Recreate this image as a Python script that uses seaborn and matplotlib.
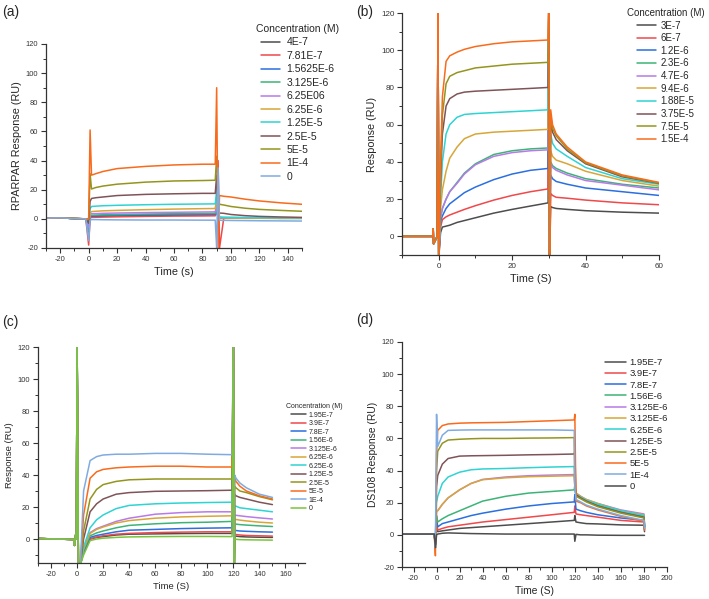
import numpy as np
import pandas as pd
import seaborn as sns
import matplotlib.pyplot as plt
from matplotlib.ticker import MultipleLocator

# ---- panel (a) ----
a_time = [-30, -20, -10, -2, 0, 1, 2, 5, 10, 20, 40, 60, 80, 89, 90, 91, 92, 95, 100, 110, 120, 135, 150]
a_labels = ['4E-7', '7.81E-7', '1.5625E-6', '3.125E-6', '6.25E06', '6.25E-6',
            '1.25E-5', '2.5E-5', '5E-5', '1E-4', '0']
a_values = [
    [0.5, 0.7, 0.2, 0, -5, 1, 1.5, 1.6, 1.8, 2, 2.3, 2.5, 2.6, 2.7, 5, 1, 0.8, 0.7, 0.7, 0.6, 0.6, 0.5, 0.5],
    [0.5, 0.7, 0.2, 0, -18, 0.5, 1, 1.1, 1.2, 1.4, 1.7, 1.9, 2, 2.1, 5, 40, -20, 0.5, 0.5, 0.4, 0.4, 0.3, 0.3],
    [0.5, 0.7, 0.2, 0, -10, 1.5, 2, 2.1, 2.3, 2.5, 2.8, 3, 3.2, 3.3, 6, 1, 0.8, 0.7, 0.7, 0.6, 0.6, 0.5, 0.5],
    [0.5, 0.7, 0.2, 0, -8, 2, 2.5, 2.6, 2.8, 3, 3.3, 3.5, 3.7, 3.8, 8, 1, 1, 0.9, 0.9, 0.8, 0.8, 0.7, 0.7],
    [0.5, 0.7, 0.2, 0, -6, 3, 3.5, 3.6, 3.8, 4, 4.3, 4.5, 4.7, 4.8, 10, 1, 0.8, 0.7, 0.6, 0.5, 0.5, 0.4, 0.4],
    [0.5, 0.7, 0.2, 0, -3, 4, 5, 5.2, 5.5, 5.8, 6.3, 6.7, 7, 7.1, 15, 1, 0.8, 0.7, 0.6, 0.5, 0.5, 0.4, 0.4],
    [0.5, 0.7, 0.2, 0, -2, 7, 8.5, 8.7, 9, 9.3, 9.7, 10, 10.2, 10.3, 20, 2, 1.2, 1.1, 1, 0.9, 0.8, 0.7, 0.6],
    [0.5, 0.7, 0.2, 0, -3, 12, 14, 14.5, 15, 16, 16.8, 17.2, 17.5, 17.5, 30, 5, 4, 3.8, 3, 2.2, 1.7, 1.3, 1],
    [0.5, 0.7, 0.2, 0, 0, 31, 20.5, 21.5, 22.5, 23.8, 25.2, 26, 26.3, 26.5, 43, 15, 10, 9.5, 8.5, 7.3, 6.5, 5.8, 5.2],
    [0.5, 0.7, 0.2, 0, 0, 61, 30, 31, 32.5, 34.5, 36, 37, 37.5, 37.5, 90, -20, 16, 15.5, 15, 13.5, 12.3, 11, 10],
    [0.5, 0.7, 0.2, 0, -15, -1, -0.5, -0.5, -0.6, -0.7, -0.8, -0.8, -0.9, -0.9, -20, 35, -1, -1, -1.1, -1.2, -1.3, -1.4, -1.5],
]

# ---- panel (b) ----
b_time = [-10, -1.6, -1.5, -1.4, -0.4, -0.2, 0, 0.5, 1, 2, 3, 5, 7, 10, 15, 20, 25, 29.8,
          30, 30.2, 30.5, 31, 32, 35, 40, 50, 60]
b_labels = ['3E-7', '6E-7', '1.2E-6', '2.3E-6', '4.7E-6', '9.4E-6',
            '1.88E-5', '3.75E-5', '7.5E-5', '1.5E-4']
b_values = [
    [0, 0, 4, -4, 0, 130, -12, 2, 5, 5.5, 6, 7.5, 8.5, 10, 12.5, 14.5, 16.3, 18, 130, -12, 16, 15.5, 15, 14.5, 13.8, 13, 12.5],
    [0, 0, 4, -4, 0, 130, -12, 5, 9, 10.5, 11.5, 13, 14.5, 16.5, 19.5, 22, 24, 25.5, 130, -12, 23, 22, 21, 20.5, 19.5, 18, 17],
    [0, 0, 4, -4, 0, 130, -12, 8, 11, 15, 17.5, 20.5, 23.5, 26.5, 30.5, 33.5, 35.5, 36.5, 130, -12, 33, 31, 29.5, 28, 26, 24, 22],
    [0, 0, 4, -4, 0, 130, -12, 10, 15, 20, 24, 29, 34, 39, 44, 46, 47, 47.5, 130, -12, 40, 38, 36.5, 34, 31, 28, 26],
    [0, 0, 4, -4, 0, 130, -12, 10, 15, 20, 24, 28.5, 33.5, 38.5, 43, 45, 46, 46.5, 130, -12, 39, 37, 35.5, 33, 30, 27.5, 25],
    [0, 0, 4, -4, 0, 130, -12, 15, 25, 35, 42, 48, 52.5, 55, 56, 56.5, 57, 57.5, 130, -12, 46, 43, 41, 39, 35, 30, 27],
    [0, 0, 4, -4, 0, 130, -12, 20, 40, 55, 60, 64, 65.5, 66, 66.5, 67, 67.5, 68, 130, -12, 55, 50, 47, 43, 37, 31, 28],
    [0, 0, 4, -4, 0, 130, -12, 30, 55, 70, 74, 76.5, 77.5, 78, 78.5, 79, 79.5, 80, 130, -12, 62, 56, 52, 46, 39, 32, 28.5],
    [0, 0, 4, -4, 0, 130, -12, 35, 65, 82, 86, 88, 89, 90.5, 91.5, 92.5, 93, 93.5, 130, -12, 65, 58, 54, 47, 39.5, 32.5, 28.7],
    [0, 0, 4, -4, 0, 130, -12, 40, 75, 94, 97, 99, 100.5, 102, 103.5, 104.5, 105, 105.5, 130, -12, 68, 60, 55, 48, 40, 33, 29],
]

# ---- panel (c) ----
c_time = [-30, -2.5, -2, -1, -0.5, 0, 1, 2.5, 5, 10, 15, 20, 30, 40, 60, 80, 100, 119,
          120, 120.7, 121, 122, 125, 130, 140, 150]
c_labels = ['1.95E-7', '3.9E-7', '7.8E-7', '1.56E-6', '3.125E-6', '6.25E-6',
            '6.25E-6', '1.25E-5', '2.5E-5', '5E-5', '1E-4', '0']
c_values = [
    [0.3, -0.3, -4, 3, 0, 125, -16, -16, -8, 0, 1, 1.5, 2.5, 3, 3.2, 3.4, 3.5, 3.5, 125, -16, 2, 1.8, 1.5, 1.3, 1.1, 1],
    [0.3, -0.3, -4, 3, 0, 125, -16, -16, -8, 0, 1.2, 2, 3, 3.5, 4, 4.3, 4.5, 4.5, 125, -16, 3, 2.8, 2.5, 2.2, 2, 1.8],
    [0.3, -0.3, -4, 3, 0, 125, -16, -16, -8, 1, 2.2, 3, 4.5, 5.5, 6, 6.5, 6.8, 7, 125, -16, 5.5, 5.3, 5, 4.8, 4.5, 4.3],
    [0.3, -0.3, -4, 3, 0, 125, -16, -16, -7, 2, 3.8, 5, 7, 8.5, 9.5, 10.2, 10.5, 11, 125, -16, 9.5, 9.3, 9, 8.7, 8.2, 7.8],
    [0.3, -0.3, -4, 3, 0, 125, -16, -16, -6, 4, 6.5, 8, 11, 13, 15.5, 16.5, 17, 17, 125, -16, 15, 14.8, 14.5, 14, 13.2, 12.5],
    [0.3, -0.3, -4, 3, 0, 125, -16, -16, -6, 3.5, 6, 7.5, 10, 11.5, 13, 13.8, 14.2, 14.5, 125, -16, 12.5, 12.2, 11.8, 11.3, 10.5, 10],
    [0.3, -0.3, -4, 3, 0, 125, -16, -16, -5, 7, 12, 15, 19, 21, 22, 22.5, 22.8, 23, 125, -16, 21, 20.5, 19.5, 19, 18, 17],
    [0.3, -0.3, -4, 3, 0, 125, -16, -16, 0, 17, 22, 25, 28, 29, 29.8, 30, 30.2, 30.5, 125, -16, 28, 27, 26, 25, 23, 21.5],
    [0.3, -0.3, -4, 3, 0, 125, -16, -16, 5, 25, 31, 34, 36, 37, 37.5, 37.5, 37.5, 37.5, 125, -16, 33, 32, 30, 29, 26.5, 24.5],
    [0.3, -0.3, -4, 3, 0, 125, -16, -16, 15, 38, 42, 43.5, 44.5, 45, 45.5, 45.5, 45, 45, 125, -16, 38, 36, 33, 30, 27, 25],
    [0.3, -0.3, -4, 3, 0, 125, -16, -16, 30, 49, 51.5, 52.5, 53, 53, 53.5, 53.5, 53, 52.7, 125, -16, 40, 38, 35, 32, 28, 26],
    [0.3, -0.3, -4, 3, 0, 125, -16, -16, -10, -1, 0, 0.5, 1, 1.3, 1.5, 1.6, 1.6, 1.5, 125, -16, 0, -0.2, -0.4, -0.5, -0.6, -0.7],
]

# ---- panel (d) ----
d_time = [-30, -2, -1, 0, 1, 5, 10, 20, 30, 40, 60, 80, 100, 119.5, 120, 121, 125, 130, 140, 160, 180, 180.5]
d_labels = ['1.95E-7', '3.9E-7', '7.8E-7', '1.56E-6', '3.125E-6', '3.125E-6',
            '6.25E-6', '1.25E-5', '2.5E-5', '5E-5', '1E-4', '0']
d_values = [
    [0.5, 0.5, -5, 5, 2, 2.5, 3, 4, 4.5, 5, 6, 7, 8, 9, 12, 8, 7.5, 7, 6.8, 6.2, 6, 2],
    [0.5, 0.5, -6, 8, 3, 4, 5, 6, 7, 8, 9.5, 11, 12.5, 14, 18, 13, 12.5, 12, 11, 9, 8, 3],
    [0.5, 0.5, -6, 10, 5, 7, 8, 10, 12, 13.5, 16, 18, 19.5, 20.5, 25, 16, 15, 14, 12.5, 10.5, 9, 4],
    [0.5, 0.5, -6, 12, 8, 10, 12, 15, 18, 21, 24, 26, 27, 28, 31, 25, 23, 21, 18.5, 14.5, 11.5, 5],
    [0.5, 0.5, -6, 15, 15, 19, 23, 28, 32, 34.5, 36, 36.8, 37.2, 37.5, 30, 26, 24, 22, 19.5, 15.5, 13, 6],
    [0.5, 0.5, -6, 15, 15, 19, 23, 28, 32, 34.3, 35.5, 36.2, 36.5, 36.8, 30, 26, 24, 22, 19.5, 15, 12.5, 6],
    [0.5, 0.5, -6, 20, 24, 32, 36, 39, 40.5, 41, 41.3, 41.8, 42.2, 42.5, 30, 25, 23.5, 21.5, 19, 15, 12, 5],
    [0.5, 0.5, -6, 30, 37, 44, 47.5, 49, 49.2, 49.3, 49.5, 49.8, 50, 50.3, 52, 25, 23, 21, 18, 14, 11, 5],
    [0.5, 0.5, -8, 40, 52, 57, 59, 59.5, 59.8, 60, 60, 60.2, 60.3, 60.5, 30, 24, 22.5, 20.5, 17.5, 13.5, 10.5, 4],
    [0.5, 0.5, -13, 50, 65, 68, 69, 69.5, 69.7, 69.8, 70, 70.5, 71, 71.5, 75, 21, 20, 18, 15.5, 11.5, 8.5, 3],
    [0.5, 0.5, -8, 75, 55, 62, 65, 65.2, 65.3, 65.3, 65.3, 65.3, 65.3, 65, 30, 22, 20.5, 18.5, 16, 12, 9, 4],
    [0.5, 0.5, -8, 0, 0.5, 1, 1.2, 1, 0.8, 0.7, 0.5, 0.5, 0.5, 0.5, -4, 0.3, 0, 0, -0.2, -0.3, -0.3, -0.3],
]

origin = ['#4d4d4d', '#f0484b', '#2b6fe0', '#3cb477', '#b77ae8', '#d8a637',
          '#2fd3d3', '#7f5458', '#94951e', '#f96b1c', '#80abe0', '#78c43a']
d_colors = origin[:11] + ['#4d4d4d']

sns.set_theme(style='ticks')
plt.rcParams['font.family'] = ['Liberation Sans', 'DejaVu Sans']
plt.rcParams['axes.unicode_minus'] = False

fig = plt.figure(figsize=(7.09, 5.99), dpi=100)
W, H = 709, 599


def px_axes(l, t, r, b):
    return fig.add_axes([l / W, 1 - b / H, (r - l) / W, (b - t) / H])


def panel(ax, time, labels, values, colors, xlim, ylim, xlabel, ylabel,
          tick_fs, label_fs):
    for lab, vals, col in zip(labels, values, colors):
        sns.lineplot(x=time, y=vals, color=col, lw=1.1, label=lab, ax=ax)
    ax.set_xlim(*xlim)
    ax.set_ylim(*ylim)
    ax.xaxis.set_major_locator(MultipleLocator(20))
    ax.xaxis.set_minor_locator(MultipleLocator(10))
    ax.yaxis.set_major_locator(MultipleLocator(20))
    ax.yaxis.set_minor_locator(MultipleLocator(10))
    ax.tick_params(which='major', direction='out', length=3.5, width=0.8,
                   labelsize=tick_fs, colors='#333333', pad=2)
    ax.tick_params(which='minor', direction='out', length=2, width=0.7, colors='#333333')
    for s in ['top', 'right']:
        ax.spines[s].set_visible(False)
    for s in ['left', 'bottom']:
        ax.spines[s].set_linewidth(0.9)
        ax.spines[s].set_color('#333333')
    ax.set_xlabel(xlabel, fontsize=label_fs, labelpad=3)
    ax.set_ylabel(ylabel, fontsize=label_fs, labelpad=3)


# (a)
ax = px_axes(46, 44, 302, 248)
panel(ax, a_time, a_labels, a_values, origin, (-30, 150), (-20, 120),
      'Time (s)', 'RPARPAR Response (RU)', 5.4, 7.8)
ax.legend(title='Concentration (M)', loc='upper left', bbox_to_anchor=(256 / W, 1 - 24 / H),
          bbox_transform=fig.transFigure, frameon=False, fontsize=7.5, title_fontsize=7.5,
          handlelength=1.9, handletextpad=0.6, labelspacing=0.33, borderpad=0, borderaxespad=0)

# (b)
ax = px_axes(402, 13, 659, 255)
panel(ax, b_time, b_labels, b_values, origin, (-10, 60), (-10, 120),
      'Time (S)', 'Response (RU)', 5.8, 7.8)
ax.legend(title='Concentration (M)', loc='upper left', bbox_to_anchor=(627 / W, 1 - 8 / H),
          bbox_transform=fig.transFigure, frameon=False, fontsize=7, title_fontsize=7,
          handlelength=1.9, handletextpad=0.5, labelspacing=0.27, borderpad=0, borderaxespad=0)

# (c)
ax = px_axes(38, 347, 305, 563)
panel(ax, c_time, c_labels, c_values, origin, (-30, 175), (-15, 120),
      'Time (S)', 'Response (RU)', 5.4, 6.8)
ax.legend(title='Concentration (M)', loc='upper left', bbox_to_anchor=(286 / W, 1 - 403 / H),
          bbox_transform=fig.transFigure, frameon=False, fontsize=5, title_fontsize=5,
          handlelength=2.2, handletextpad=0.4, labelspacing=0.22, borderpad=0, borderaxespad=0)

# (d)
ax = px_axes(402, 342, 667, 567)
panel(ax, d_time, d_labels, d_values, d_colors, (-30, 200), (-20, 120),
      'Time (S)', 'DS108 Response (RU)', 5.5, 7.4)
ax.legend(loc='upper left', bbox_to_anchor=(605 / W, 1 - 358 / H),
          bbox_transform=fig.transFigure, frameon=False, fontsize=6.8,
          handlelength=2.2, handletextpad=0.4, labelspacing=0.24, borderpad=0, borderaxespad=0)

for lab, x, y in [('(a)', 2, 12), ('(b)', 356, 12), ('(c)', 2, 322), ('(d)', 356, 320)]:
    fig.text(x / W, 1 - y / H, lab, fontsize=10, ha='left', va='center')

plt.savefig('out.png', dpi=100)
